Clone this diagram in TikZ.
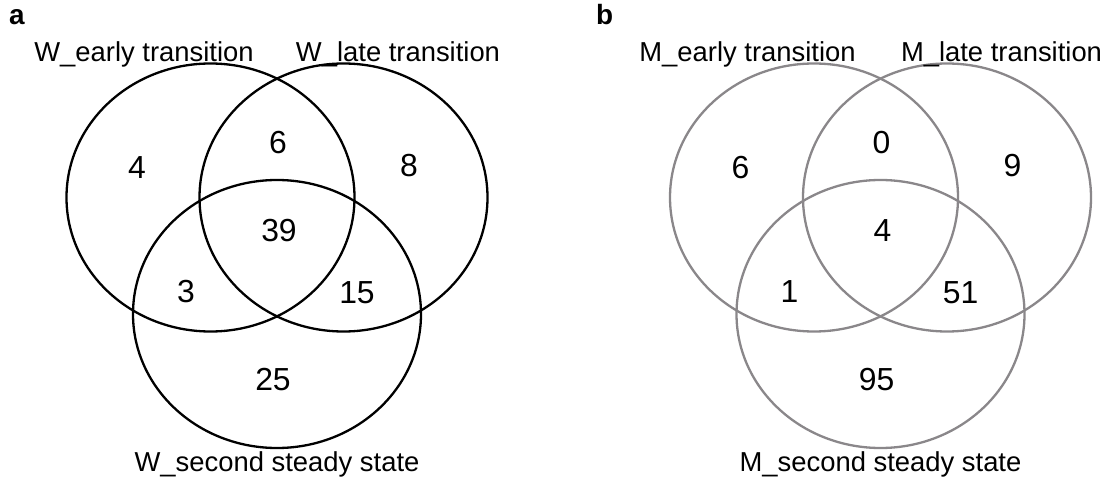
\documentclass[tikz,border=0pt]{standalone}
\usepackage{fontspec}
\setmainfont{Liberation Sans}
\usetikzlibrary{shapes.geometric}
\definecolor{ringgrey}{RGB}{138,135,138}
\begin{document}
\begin{tikzpicture}[x=1bp, y=-1bp,
  every node/.style={inner sep=0pt, outer sep=0pt},
  setring/.style={draw, ellipse, minimum width=288bp, minimum height=268bp, line width=2.3bp},
  count/.style={anchor=center, font=\fontsize{32}{34}\selectfont},
  setname/.style={anchor=base, font=\fontsize{27.5}{30}\selectfont},
  panel/.style={anchor=base west, font=\fontsize{28}{30}\selectfont\bfseries}]
\useasboundingbox (0,0) rectangle (1116,479);

% ---- panel a: W sets ----
\node[panel] (pa) at (9,25) {a};
\node[setring] (wE) at (210.5,197.5) {};
\node[setring] (wL) at (343.5,197.5) {};
\node[setring] (wS) at (277,314) {};
\node[setname] (wEn) at (144,62) {W\_early transition};
\node[setname] (wLn) at (398,62) {W\_late transition};
\node[setname] (wSn) at (277,471) {W\_second steady state};
\node[count] (w1) at (137,168) {4};
\node[count] (w2) at (278,143) {6};
\node[count] (w3) at (409,166) {8};
\node[count] (w4) at (279,231) {39};
\node[count] (w5) at (186,292) {3};
\node[count] (w6) at (357,293) {15};
\node[count] (w7) at (273,380) {25};

% ---- panel b: M sets ----
\node[panel] (pb) at (596,25) {b};
\begin{scope}[xshift=603.5bp]
\node[setring, draw=ringgrey] (mE) at (210.5,197.5) {};
\node[setring, draw=ringgrey] (mL) at (343.5,197.5) {};
\node[setring, draw=ringgrey] (mS) at (277,314) {};
\node[setname] (mEn) at (144,62) {M\_early transition};
\node[setname] (mLn) at (398,62) {M\_late transition};
\node[setname] (mSn) at (277,471) {M\_second steady state};
\node[count] (m1) at (137,168) {6};
\node[count] (m2) at (278,143) {0};
\node[count] (m3) at (409,166) {9};
\node[count] (m4) at (279,231) {4};
\node[count] (m5) at (186,292) {1};
\node[count] (m6) at (357,293) {51};
\node[count] (m7) at (273,380) {95};
\end{scope}
\end{tikzpicture}
\end{document}
